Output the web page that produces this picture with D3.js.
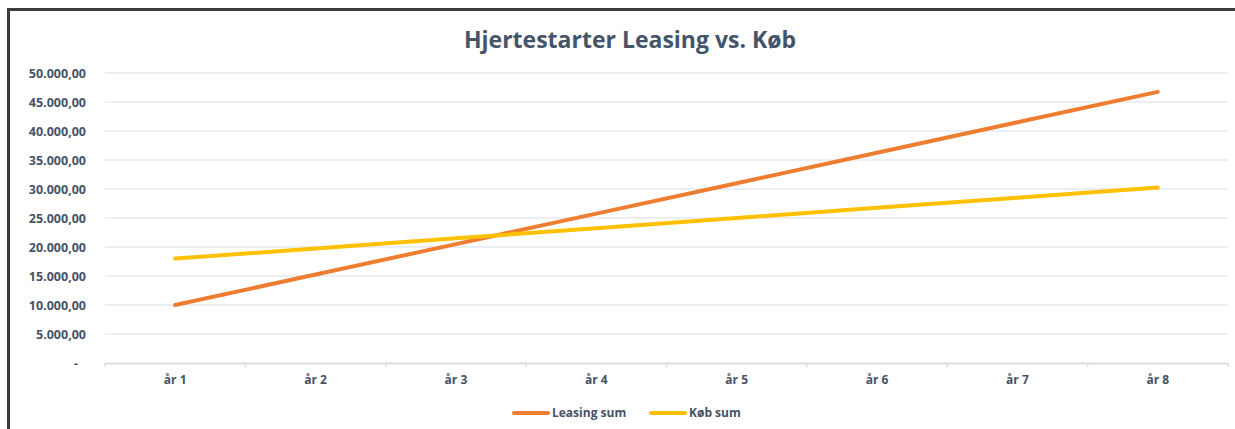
<!DOCTYPE html>
<html>
<head>
<meta charset="utf-8">
<script src="https://cdn.jsdelivr.net/npm/d3@7"></script>
<style>
  body { margin: 0; background: #fff; }
  text { font-family: "Open Sans", "Noto Sans", sans-serif; }
</style>
</head>
<body>
<script>
var width = 1235, height = 429;

// data
var years = ["år 1", "år 2", "år 3", "år 4", "år 5", "år 6", "år 7", "år 8"];
var leasingSum = [10000, 15250, 20500, 25750, 31000, 36250, 41500, 46750];
var kobSum = [18000, 19750, 21500, 23250, 25000, 26750, 28500, 30250];
var yTicks = [0, 5000, 10000, 15000, 20000, 25000, 30000, 35000, 40000, 45000, 50000];
var seriesNames = ["Leasing sum", "Køb sum"];
var seriesColors = ["#ed7d31", "#ffc000"];

var margin = {top: 73, right: 7, bottom: 66, left: 105};
var textColor = "#465266";

var svg = d3.select("body").append("svg")
    .attr("width", width)
    .attr("height", height);

// chart frame (only top/left edges visible in the crop)
svg.append("path")
    .attr("d", "M8.5," + height + "V9.5H" + width)
    .attr("fill", "none")
    .attr("stroke", "#3b3b3b")
    .attr("stroke-width", 3);

svg.append("text")
    .attr("x", 630)
    .attr("y", 48)
    .attr("text-anchor", "middle")
    .style("font-size", "23px")
    .style("font-weight", "bold")
    .style("fill", "#44546a")
    .text("Hjertestarter Leasing vs. Køb");

var x = d3.scaleBand()
    .domain(years)
    .range([margin.left, width - margin.right]);

var y = d3.scaleLinear()
    .domain([0, 50000])
    .range([height - margin.bottom, margin.top]);

var fmt = function(d) {
  if (d === 0) return "-";
  return d3.format(",.2f")(d).replace(/,/g, "#").replace(".", ",").replace(/#/g, ".");
};

// gridlines
var g = svg.append("g");
g.selectAll(".grid")
    .data(yTicks.filter(function(d){ return d > 0; }))
  .enter().append("line")
    .attr("class", "grid")
    .attr("x1", x.range()[0])
    .attr("x2", x.range()[1])
    .attr("y1", function(d){ return y(d); })
    .attr("y2", function(d){ return y(d); })
    .attr("stroke", "#e4e8ee")
    .attr("stroke-width", 1.5);

// y axis labels
var yAxis = d3.axisLeft(y).tickValues(yTicks).tickSize(0).tickPadding(0).tickFormat(fmt);
var ya = svg.append("g")
    .attr("transform", "translate(86,0)")
    .call(yAxis);
ya.select(".domain").remove();
ya.selectAll("text")
    .attr("dy", "0.35em")
    .style("font-size", "12.5px")
    .style("font-weight", "bold")
    .style("font-family", "\"Open Sans\", sans-serif")
    .style("fill", textColor);
ya.selectAll(".tick")
    .filter(function(d){ return d === 0; })
    .select("text")
    .attr("x", -8);

// x axis
var xAxis = d3.axisBottom(x).tickSize(0).tickPadding(12);
var xa = svg.append("g")
    .attr("transform", "translate(0," + y(0) + ")")
    .call(xAxis);
xa.select(".domain")
    .attr("stroke", "#dadde3")
    .attr("stroke-width", 2);
xa.selectAll("text")
    .style("font-size", "12px")
    .style("font-weight", "bold")
    .style("font-family", "\"Open Sans\", sans-serif")
    .style("fill", textColor);

// tick marks between categories
var edges = years.map(function(d){ return x(d); }).concat([x.range()[1]]);
xa.selectAll(".sep")
    .data(edges)
  .enter().append("line")
    .attr("class", "sep")
    .attr("x1", function(d){ return d; })
    .attr("x2", function(d){ return d; })
    .attr("y1", 0)
    .attr("y2", 4)
    .attr("stroke", "#dadde3")
    .attr("stroke-width", 1.5);

// lines
var line = d3.line()
    .x(function(d, i){ return x(years[i]) + x.bandwidth() / 2; })
    .y(function(d){ return y(d); });

[leasingSum, kobSum].forEach(function(s, i) {
  svg.append("path")
      .datum(s)
      .attr("d", line)
      .attr("fill", "none")
      .attr("stroke", seriesColors[i])
      .attr("stroke-width", 4)
      .attr("stroke-linecap", "round");
});

// legend
var legendPos = [514, 651];
var legend = svg.selectAll(".legend")
    .data(seriesNames)
  .enter().append("g")
    .attr("class", "legend")
    .attr("transform", function(d, i){ return "translate(" + legendPos[i] + ",413)"; });
legend.append("line")
    .attr("x1", 0).attr("x2", 34)
    .attr("stroke", function(d, i){ return seriesColors[i]; })
    .attr("stroke-width", 4)
    .attr("stroke-linecap", "round");
legend.append("text")
    .attr("x", 38)
    .attr("dy", "0.35em")
    .style("font-size", "12px")
    .style("font-weight", "bold")
    .style("fill", textColor)
    .text(function(d){ return d; });
</script>
</body>
</html>
